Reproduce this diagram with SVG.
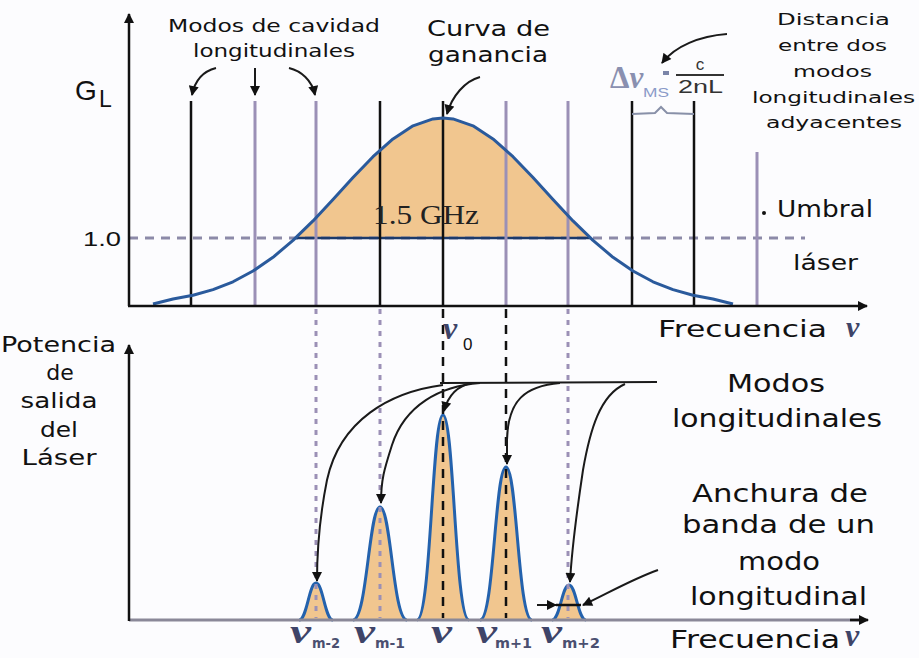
<svg xmlns="http://www.w3.org/2000/svg" width="919" height="658" viewBox="0 0 919 658">
<defs>
<marker id="ah" viewBox="0 0 10 10" refX="9" refY="5" markerUnits="userSpaceOnUse" markerWidth="11" markerHeight="10" orient="auto"><path d="M0,0 L10,5 L0,10 z" fill="#111"/></marker>
<marker id="ax" viewBox="0 0 10 10" refX="9" refY="5" markerUnits="userSpaceOnUse" markerWidth="14" markerHeight="10" orient="auto"><path d="M0,0 L10,5 L0,10 z" fill="#111"/></marker>
<style>
.lab{font-family:"DejaVu Sans",Verdana,sans-serif;fill:#111}
.ar{font-family:"Liberation Sans",Arial,sans-serif;fill:#111}
.nu{font-family:"Liberation Serif","Times New Roman",serif;font-style:italic;font-weight:bold;fill:#3e4468}
.sub{font-family:"DejaVu Sans",Verdana,sans-serif;font-weight:bold;fill:#4a4f70}
.axis{stroke:#111;stroke-width:2.5;fill:none}
.blk{stroke:#111;stroke-width:2.5;fill:none}
.pur{stroke:#9b90b6;stroke-width:3;fill:none}
.pdash{stroke:#9b90b6;stroke-width:3;fill:none;stroke-dasharray:5 6}
.bdash{stroke:#111;stroke-width:2.5;fill:none;stroke-dasharray:9 7}
.lead{stroke:#1a1a1a;stroke-width:2;fill:none;marker-end:url(#ah)}
.peak{fill:#f1c68f;stroke:#2462ad;stroke-width:3}
</style>
</defs>
<rect width="919" height="658" fill="#fcfcfe"/>

<g id="top-chart">
  <polygon points="295.6,238 313,220.9 333,199.5 353,177.5 373,156.7 393,138.9 413,125.8 433,118.9 443,118 453,118.9 473,125.8 493,138.9 513,156.7 533,177.5 553,199.5 573,220.9 590.4,238" fill="#f1c68f"/>
  <line x1="129" y1="238" x2="805" y2="238" stroke="#8c8aa8" stroke-width="3" stroke-dasharray="9 7"/>
  <line x1="296" y1="238" x2="590" y2="238" stroke="#1c3a6c" stroke-width="2.5"/>
  <g id="mode-lines">
    <line class="blk" x1="191" y1="101" x2="191" y2="305"/>
    <line class="pur" x1="255" y1="101" x2="255" y2="305"/>
    <line class="pur" x1="316" y1="101" x2="316" y2="305"/>
    <line class="blk" x1="380" y1="101" x2="380" y2="305"/>
    <line class="blk" x1="443" y1="101" x2="443" y2="305"/>
    <line class="pur" x1="506" y1="101" x2="506" y2="305"/>
    <line class="pur" x1="568" y1="101" x2="568" y2="305"/>
    <line class="blk" x1="632" y1="101" x2="632" y2="305"/>
    <line class="blk" x1="694" y1="101" x2="694" y2="305"/>
    <line class="pur" x1="757" y1="152" x2="757" y2="305"/>
  </g>
  <polyline id="gain-curve" points="153,304 173,299 193,295.3 213,289.6 233,281.8 253,271 273,257.3 293,240.4 313,220.9 333,199.5 353,177.5 373,156.7 393,138.9 413,125.8 433,118.9 443,118 453,118.9 473,125.8 493,138.9 513,156.7 533,177.5 553,199.5 573,220.9 593,240.4 613,257.3 633,271 653,281.8 673,289.6 693,295.3 713,299 733,304" fill="none" stroke="#2a5a9c" stroke-width="3" stroke-linejoin="round"/>
  <line class="axis" x1="129" y1="306" x2="129" y2="14" marker-end="url(#ax)"/>
  <line class="axis" x1="128" y1="306" x2="867" y2="306" marker-end="url(#ax)"/>
  <path d="M632,114 L655,113 L661,107 L667,113 L694,114" fill="none" stroke="#8890a8" stroke-width="2"/>
  <text x="373" y="224" font-family="Liberation Serif,serif" font-size="27" fill="#222" textLength="106" lengthAdjust="spacingAndGlyphs">1.5 GHz</text>
</g>

<g id="bottom-chart">
  <path class="peak" d="M299,620 C307,620 309,583 316,583 C323,583 325,620 333,620"/>
  <path class="peak" d="M353,620 C367,620 369,507 380,507 C391,507 393,620 407,620"/>
  <path class="peak" d="M417,620 C431,620 432,415 443,415 C454,415 455,620 469,620"/>
  <path class="peak" d="M480,620 C494,620 495,467 506,467 C517,467 518,620 532,620"/>
  <path class="peak" d="M552,620 C560,620 562,585 569,585 C576,585 578,620 586,620"/>
  <line class="pdash" x1="316" y1="309" x2="316" y2="618"/>
  <line class="pdash" x1="380" y1="309" x2="380" y2="618"/>
  <line class="bdash" x1="443" y1="309" x2="443" y2="618"/>
  <line class="bdash" x1="506" y1="309" x2="506" y2="618"/>
  <line class="pdash" x1="568" y1="309" x2="568" y2="618"/>
  <line x1="129" y1="620" x2="860" y2="620" stroke="#8a8898" stroke-width="3"/>
  <line x1="850" y1="620" x2="868" y2="620" stroke="#111" stroke-width="2.5" marker-end="url(#ax)"/>
  <line class="axis" x1="129" y1="621" x2="129" y2="345" marker-end="url(#ax)"/>
  <line x1="556" y1="605" x2="581" y2="605" stroke="#111" stroke-width="2.5"/>
</g>

<g id="connectors">
  <path class="lead" d="M216,68 C204,71 195,80 192,95"/>
  <path class="lead" d="M255,68 L255,95"/>
  <path class="lead" d="M289,68 C301,71 312,80 315,95"/>
  <path class="lead" d="M480,77 C465,81 452,96 447,114"/>
  <path class="lead" d="M727,34 C700,36 675,46 662,63"/>
  <path d="M440,383 L657,382" stroke="#1a1a1a" stroke-width="2" fill="none"/>
  <path class="lead" d="M443,385 C390,392 340,420 327,480 C320,515 317,550 317,581"/>
  <path class="lead" d="M480,383 C440,386 405,405 392,445 C384,470 381,480 381,503"/>
  <path class="lead" d="M472,383 C456,386 448,396 444,411"/>
  <path class="lead" d="M560,383 C525,386 508,400 507,440 L507,464"/>
  <path class="lead" d="M625,384 C600,395 590,430 583,470 C577,510 572,545 570,582"/>
  <path class="lead" d="M658,570 C630,580 605,595 583,605"/>
  <path class="lead" d="M537,605 L556,605"/>
</g>

<g id="labels">
  <text class="ar" x="75" y="100" font-size="28">G</text>
  <text class="ar" x="99" y="107" font-size="23">L</text>
  <text class="ar" x="83" y="246" font-size="20" textLength="38" lengthAdjust="spacingAndGlyphs">1.0</text>
  <text class="lab" x="168" y="32" font-size="18" textLength="212" lengthAdjust="spacingAndGlyphs">Modos de cavidad</text>
  <text class="lab" x="193" y="57" font-size="18" textLength="162" lengthAdjust="spacingAndGlyphs">longitudinales</text>
  <text class="lab" x="427" y="36" font-size="22" textLength="123" lengthAdjust="spacingAndGlyphs">Curva de</text>
  <text class="lab" x="428" y="62" font-size="22" textLength="120" lengthAdjust="spacingAndGlyphs">ganancia</text>
  <text class="lab" x="777" y="25" font-size="16" textLength="113" lengthAdjust="spacingAndGlyphs">Distancia</text>
  <text class="lab" x="778" y="51" font-size="16" textLength="109" lengthAdjust="spacingAndGlyphs">entre dos</text>
  <text class="lab" x="793" y="77" font-size="16" textLength="79" lengthAdjust="spacingAndGlyphs">modos</text>
  <text class="lab" x="752" y="103" font-size="16" textLength="163" lengthAdjust="spacingAndGlyphs">longitudinales</text>
  <text class="lab" x="766" y="128" font-size="16" textLength="136" lengthAdjust="spacingAndGlyphs">adyacentes</text>
  <circle cx="764" cy="213" r="2" fill="#111"/>
  <text class="lab" x="777" y="217" font-size="23" textLength="96" lengthAdjust="spacingAndGlyphs">Umbral</text>
  <text class="lab" x="793" y="270" font-size="22" textLength="65" lengthAdjust="spacingAndGlyphs">láser</text>
  <text x="610" y="88" font-family="Liberation Serif,serif" font-size="31" font-weight="bold" fill="#8a90b0">Δ<tspan font-style="italic">ν</tspan></text>
  <text x="643" y="97" font-family="Liberation Sans,sans-serif" font-size="12" fill="#8a9ac8" textLength="26" lengthAdjust="spacingAndGlyphs">MS</text>
  <rect x="663" y="71" width="6" height="4" fill="#7a84a8"/>
  <text x="700" y="70" font-family="Liberation Sans,sans-serif" font-size="17" fill="#333" text-anchor="middle">c</text>
  <line x1="676" y1="75" x2="724" y2="75" stroke="#333" stroke-width="2"/>
  <text x="678" y="93" font-family="Liberation Sans,sans-serif" font-size="18" fill="#333" textLength="45" lengthAdjust="spacingAndGlyphs">2nL</text>
  <text class="lab" x="658" y="337" font-size="23" textLength="169" lengthAdjust="spacingAndGlyphs">Frecuencia</text>
  <text class="nu" x="846" y="337" font-size="30">ν</text>
  <text class="nu" x="443" y="339" font-size="32" fill="#5a4a80">ν</text>
  <text class="ar" x="463" y="350" font-size="17">0</text>
  <text class="lab" x="1" y="352" font-size="22" textLength="115" lengthAdjust="spacingAndGlyphs">Potencia</text>
  <text class="lab" x="60" y="380" font-size="22" text-anchor="middle">de</text>
  <text class="lab" x="59" y="408" font-size="22" text-anchor="middle" textLength="77" lengthAdjust="spacingAndGlyphs">salida</text>
  <text class="lab" x="59" y="437" font-size="22" text-anchor="middle" textLength="38" lengthAdjust="spacingAndGlyphs">del</text>
  <text class="lab" x="59" y="465" font-size="22" text-anchor="middle" textLength="75" lengthAdjust="spacingAndGlyphs">Láser</text>
  <text class="lab" x="727" y="392" font-size="25" textLength="98" lengthAdjust="spacingAndGlyphs">Modos</text>
  <text class="lab" x="672" y="427" font-size="25" textLength="210" lengthAdjust="spacingAndGlyphs">longitudinales</text>
  <text class="lab" x="692" y="502" font-size="24" textLength="176" lengthAdjust="spacingAndGlyphs">Anchura de</text>
  <text class="lab" x="682" y="533" font-size="24" textLength="193" lengthAdjust="spacingAndGlyphs">banda de un</text>
  <text class="lab" x="738" y="570" font-size="24" textLength="82" lengthAdjust="spacingAndGlyphs">modo</text>
  <text class="lab" x="690" y="605" font-size="24" textLength="177" lengthAdjust="spacingAndGlyphs">longitudinal</text>
  <text class="lab" x="670" y="648" font-size="24" textLength="170" lengthAdjust="spacingAndGlyphs">Frecuencia</text>
  <text class="nu" x="845" y="646" font-size="32">ν</text>
  <text class="nu" x="290" y="643" font-size="34" textLength="21" lengthAdjust="spacingAndGlyphs">ν</text>
  <text class="sub" x="312" y="648" font-size="14" textLength="28" lengthAdjust="spacingAndGlyphs">m-2</text>
  <text class="nu" x="354" y="643" font-size="34" textLength="21" lengthAdjust="spacingAndGlyphs">ν</text>
  <text class="sub" x="375" y="648" font-size="14" textLength="30" lengthAdjust="spacingAndGlyphs">m-1</text>
  <text class="nu" x="431" y="643" font-size="34" textLength="21" lengthAdjust="spacingAndGlyphs">ν</text>
  <text class="nu" x="476" y="643" font-size="34" textLength="21" lengthAdjust="spacingAndGlyphs">ν</text>
  <text class="sub" x="495" y="648" font-size="14" textLength="37" lengthAdjust="spacingAndGlyphs">m+1</text>
  <text class="nu" x="541" y="643" font-size="34" textLength="21" lengthAdjust="spacingAndGlyphs">ν</text>
  <text class="sub" x="562" y="648" font-size="14" textLength="38" lengthAdjust="spacingAndGlyphs">m+2</text>
</g>
</svg>
